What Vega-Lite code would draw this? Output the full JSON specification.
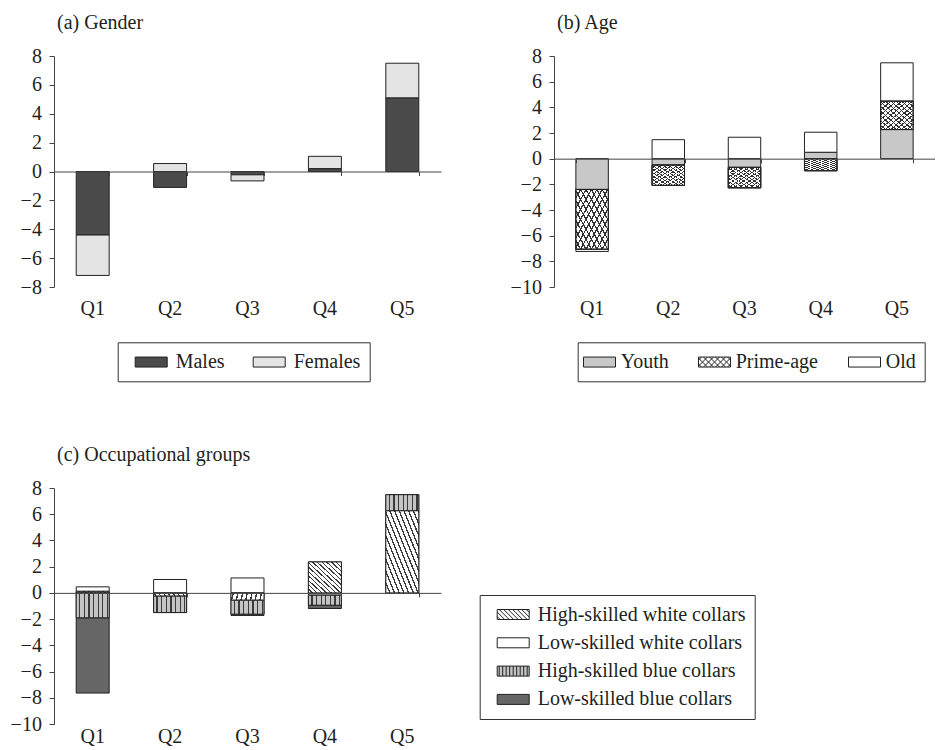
{
  "$schema": "https://vega.github.io/schema/vega-lite/v6.json",
  "background": "white",
  "padding": {"left": 10, "top": 13, "right": 0, "bottom": 0},
  "bounds": "flush",
  "columns": 2,
  "spacing": {"row": 201, "column": 113},
  "resolve": {"scale": {"fill": "independent", "shape": "independent"}, "legend": {"fill": "independent", "shape": "independent"}},
  "config": {
    "font": "Liberation Serif",
    "view": {"stroke": null},
    "axis": {"labelFont": "Liberation Serif", "labelFontSize": 20, "labelColor": "#231f20", "grid": false},
    "title": {"font": "Liberation Serif", "fontSize": 20, "fontWeight": "normal", "color": "#231f20", "anchor": "start", "frame": "group", "offset": 13, "dx": 3},
    "legend": {"labelFont": "Liberation Serif", "labelFontSize": 20, "labelColor": "#231f20", "labelLimit": 400, "symbolType": "M-1.6,-0.5H1.6V0.5H-1.6Z", "symbolSize": 400, "symbolStrokeColor": "#222", "symbolStrokeWidth": 1, "strokeColor": "#333", "strokeWidth": 1, "padding": 9, "symbolOffset": 14, "labelOffset": 14, "orient": "none"}
  },
  "datasets": {
    "a": [
      {"q": "Q1", "group": "Males", "ord": 1, "value": -4.4},
      {"q": "Q1", "group": "Females", "ord": 2, "value": -2.8},
      {"q": "Q2", "group": "Males", "ord": 1, "value": -1.1},
      {"q": "Q2", "group": "Females", "ord": 2, "value": 0.55},
      {"q": "Q3", "group": "Males", "ord": 1, "value": -0.23},
      {"q": "Q3", "group": "Females", "ord": 2, "value": -0.42},
      {"q": "Q4", "group": "Males", "ord": 1, "value": 0.2},
      {"q": "Q4", "group": "Females", "ord": 2, "value": 0.85},
      {"q": "Q5", "group": "Males", "ord": 1, "value": 5.1},
      {"q": "Q5", "group": "Females", "ord": 2, "value": 2.4}
    ],
    "b": [
      {"q": "Q1", "group": "Youth", "ord": 1, "value": -2.4},
      {"q": "Q1", "group": "Prime-age", "ord": 2, "value": -4.65},
      {"q": "Q1", "group": "Old", "ord": 3, "value": -0.18},
      {"q": "Q2", "group": "Youth", "ord": 1, "value": -0.5},
      {"q": "Q2", "group": "Prime-age", "ord": 2, "value": -1.58},
      {"q": "Q2", "group": "Old", "ord": 3, "value": 1.48},
      {"q": "Q3", "group": "Youth", "ord": 1, "value": -0.68},
      {"q": "Q3", "group": "Prime-age", "ord": 2, "value": -1.59},
      {"q": "Q3", "group": "Old", "ord": 3, "value": 1.67},
      {"q": "Q4", "group": "Youth", "ord": 1, "value": 0.5},
      {"q": "Q4", "group": "Prime-age", "ord": 2, "value": -0.94},
      {"q": "Q4", "group": "Old", "ord": 3, "value": 1.56},
      {"q": "Q5", "group": "Youth", "ord": 1, "value": 2.27},
      {"q": "Q5", "group": "Prime-age", "ord": 2, "value": 2.21},
      {"q": "Q5", "group": "Old", "ord": 3, "value": 2.99}
    ],
    "c": [
      {"q": "Q1", "group": "High-skilled white collars", "ord": 1, "value": 0.12},
      {"q": "Q1", "group": "Low-skilled white collars", "ord": 2, "value": 0.34},
      {"q": "Q1", "group": "High-skilled blue collars", "ord": 3, "value": -1.9},
      {"q": "Q1", "group": "Low-skilled blue collars", "ord": 4, "value": -5.74},
      {"q": "Q2", "group": "High-skilled white collars", "ord": 1, "value": -0.25},
      {"q": "Q2", "group": "Low-skilled white collars", "ord": 2, "value": 1.02},
      {"q": "Q2", "group": "High-skilled blue collars", "ord": 3, "value": -1.25},
      {"q": "Q3", "group": "High-skilled white collars", "ord": 1, "value": -0.56},
      {"q": "Q3", "group": "Low-skilled white collars", "ord": 2, "value": 1.14},
      {"q": "Q3", "group": "High-skilled blue collars", "ord": 3, "value": -1.06},
      {"q": "Q3", "group": "Low-skilled blue collars", "ord": 4, "value": -0.1},
      {"q": "Q4", "group": "High-skilled white collars", "ord": 1, "value": 2.36},
      {"q": "Q4", "group": "Low-skilled white collars", "ord": 2, "value": -0.18},
      {"q": "Q4", "group": "High-skilled blue collars", "ord": 3, "value": -0.76},
      {"q": "Q4", "group": "Low-skilled blue collars", "ord": 4, "value": -0.25},
      {"q": "Q5", "group": "High-skilled white collars", "ord": 1, "value": 6.27},
      {"q": "Q5", "group": "High-skilled blue collars", "ord": 3, "value": 1.22}
    ]
  },
  "concat": [
    {
      "width": 387, "height": 231,
      "title": "(a) Gender",
      "data": {"name": "a"},
      "transform": [{"stack": "value", "groupby": ["q"], "sort": [{"field": "ord", "order": "ascending"}], "as": ["v0", "v1"]}],
      "encoding": {
        "y": {"field": "v0", "type": "quantitative", "scale": {"domain": [-8, 8], "nice": false, "zero": false},
              "axis": {"values": [-8, -6, -4, -2, 0, 2, 4, 6, 8], "title": null, "domainColor": "#444", "tickColor": "#444", "tickSize": 5, "labelPadding": 7.6}},
        "y2": {"field": "v1"}
      },
      "layer": [
        {"mark": {"type": "bar", "stroke": "#222", "strokeWidth": 1},
         "encoding": {
           "x": {"field": "q", "type": "ordinal", "scale": {"paddingInner": 0.574, "paddingOuter": 0.287},
                 "axis": {"orient": "bottom", "title": null, "domain": false, "ticks": false, "labelAngle": 0, "labelPadding": 11}},
           "fill": {"field": "group", "type": "nominal",
                    "scale": {"domain": ["Males", "Females"], "range": ["#4b4b4b", "#e4e4e4"]},
                    "legend": {"title": null, "orient": "none", "legendX": 63.7, "legendY": 286.3, "direction": "horizontal", "columns": 2, "columnPadding": 20,
                               "encoding": {"symbols": {"stroke": {"value": "#222"}, "strokeWidth": {"value": 1}}}}}
         }},
        {"mark": {"type": "bar", "opacity": 0},
         "encoding": {
           "x": {"field": "q", "type": "ordinal",
                 "axis": {"orient": "bottom", "offset": -115.5, "title": null, "labels": false, "domain": true, "domainColor": "#444", "ticks": true, "tickBand": "extent", "tickSize": 4, "tickColor": "#444", "zindex": 1}}
         }}
      ],
      "resolve": {"axis": {"x": "independent"}}
    },
    {
      "width": 381, "height": 231,
      "title": "(b) Age",
      "data": {"name": "b"},
      "transform": [{"stack": "value", "groupby": ["q"], "sort": [{"field": "ord", "order": "ascending"}], "as": ["v0", "v1"]}],
      "encoding": {
        "y": {"field": "v0", "type": "quantitative", "scale": {"domain": [-10, 8], "nice": false, "zero": false},
              "axis": {"values": [-10, -8, -6, -4, -2, 0, 2, 4, 6, 8], "title": null, "domainColor": "#444", "tickColor": "#444", "tickSize": 5, "labelPadding": 7.6}},
        "y2": {"field": "v1"}
      },
      "layer": [
        {"mark": {"type": "bar", "stroke": "#222", "strokeWidth": 1},
         "encoding": {
           "x": {"field": "q", "type": "ordinal", "scale": {"paddingInner": 0.574, "paddingOuter": 0.287},
                 "axis": {"orient": "bottom", "title": null, "domain": false, "ticks": false, "labelAngle": 0, "labelPadding": 11}},
           "fill": {"field": "group", "type": "nominal",
                    "scale": {"domain": ["Youth", "Prime-age", "Old"], "range": ["#c8c8c8", "#ffffff", "#ffffff"]},
                    "legend": {"title": null, "orient": "none", "legendX": 23.7, "legendY": 286.3, "direction": "horizontal", "columns": 3, "columnPadding": 27, "symbolOffset": 2.3, "labelOffset": 10.7,
                               "encoding": {"symbols": {"stroke": {"value": "#222"}, "strokeWidth": {"value": 1}, "opacity": {"value": 1}}}}}
         }},
        {"transform": [{"filter": "datum.group === 'Prime-age'"}],
         "mark": {"type": "bar", "stroke": "#222", "strokeWidth": 1,
                  "fill": {"gradient": "linear", "x1": 0, "y1": 1, "x2": 1, "y2": 0, "stops": [
                    {"offset": 0, "color": "#ffffff"}, {"offset": 0.0625, "color": "#ffffff"}, {"offset": 0.0625, "color": "#333333"}, {"offset": 0.0833, "color": "#333333"},
                    {"offset": 0.0833, "color": "#ffffff"}, {"offset": 0.1458, "color": "#ffffff"}, {"offset": 0.1458, "color": "#333333"}, {"offset": 0.1667, "color": "#333333"},
                    {"offset": 0.1667, "color": "#ffffff"}, {"offset": 0.2292, "color": "#ffffff"}, {"offset": 0.2292, "color": "#333333"}, {"offset": 0.25, "color": "#333333"},
                    {"offset": 0.25, "color": "#ffffff"}, {"offset": 0.3125, "color": "#ffffff"}, {"offset": 0.3125, "color": "#333333"}, {"offset": 0.3333, "color": "#333333"},
                    {"offset": 0.3333, "color": "#ffffff"}, {"offset": 0.3958, "color": "#ffffff"}, {"offset": 0.3958, "color": "#333333"}, {"offset": 0.4167, "color": "#333333"},
                    {"offset": 0.4167, "color": "#ffffff"}, {"offset": 0.4792, "color": "#ffffff"}, {"offset": 0.4792, "color": "#333333"}, {"offset": 0.5, "color": "#333333"},
                    {"offset": 0.5, "color": "#ffffff"}, {"offset": 0.5625, "color": "#ffffff"}, {"offset": 0.5625, "color": "#333333"}, {"offset": 0.5833, "color": "#333333"},
                    {"offset": 0.5833, "color": "#ffffff"}, {"offset": 0.6458, "color": "#ffffff"}, {"offset": 0.6458, "color": "#333333"}, {"offset": 0.6667, "color": "#333333"},
                    {"offset": 0.6667, "color": "#ffffff"}, {"offset": 0.7292, "color": "#ffffff"}, {"offset": 0.7292, "color": "#333333"}, {"offset": 0.75, "color": "#333333"},
                    {"offset": 0.75, "color": "#ffffff"}, {"offset": 0.8125, "color": "#ffffff"}, {"offset": 0.8125, "color": "#333333"}, {"offset": 0.8333, "color": "#333333"},
                    {"offset": 0.8333, "color": "#ffffff"}, {"offset": 0.8958, "color": "#ffffff"}, {"offset": 0.8958, "color": "#333333"}, {"offset": 0.9167, "color": "#333333"},
                    {"offset": 0.9167, "color": "#ffffff"}, {"offset": 0.9792, "color": "#ffffff"}, {"offset": 0.9792, "color": "#333333"}, {"offset": 1, "color": "#333333"}
                  ]}},
         "encoding": {"x": {"field": "q", "type": "ordinal", "axis": null}}},
        {"transform": [{"filter": "datum.group === 'Prime-age'"}],
         "mark": {"type": "bar", "stroke": "#222", "strokeWidth": 1,
                  "fill": {"gradient": "linear", "x1": 0, "y1": 0, "x2": 1, "y2": 1, "stops": [
                    {"offset": 0, "color": "rgba(0,0,0,0)"}, {"offset": 0.0625, "color": "rgba(0,0,0,0)"}, {"offset": 0.0625, "color": "#333333"}, {"offset": 0.0833, "color": "#333333"},
                    {"offset": 0.0833, "color": "rgba(0,0,0,0)"}, {"offset": 0.1458, "color": "rgba(0,0,0,0)"}, {"offset": 0.1458, "color": "#333333"}, {"offset": 0.1667, "color": "#333333"},
                    {"offset": 0.1667, "color": "rgba(0,0,0,0)"}, {"offset": 0.2292, "color": "rgba(0,0,0,0)"}, {"offset": 0.2292, "color": "#333333"}, {"offset": 0.25, "color": "#333333"},
                    {"offset": 0.25, "color": "rgba(0,0,0,0)"}, {"offset": 0.3125, "color": "rgba(0,0,0,0)"}, {"offset": 0.3125, "color": "#333333"}, {"offset": 0.3333, "color": "#333333"},
                    {"offset": 0.3333, "color": "rgba(0,0,0,0)"}, {"offset": 0.3958, "color": "rgba(0,0,0,0)"}, {"offset": 0.3958, "color": "#333333"}, {"offset": 0.4167, "color": "#333333"},
                    {"offset": 0.4167, "color": "rgba(0,0,0,0)"}, {"offset": 0.4792, "color": "rgba(0,0,0,0)"}, {"offset": 0.4792, "color": "#333333"}, {"offset": 0.5, "color": "#333333"},
                    {"offset": 0.5, "color": "rgba(0,0,0,0)"}, {"offset": 0.5625, "color": "rgba(0,0,0,0)"}, {"offset": 0.5625, "color": "#333333"}, {"offset": 0.5833, "color": "#333333"},
                    {"offset": 0.5833, "color": "rgba(0,0,0,0)"}, {"offset": 0.6458, "color": "rgba(0,0,0,0)"}, {"offset": 0.6458, "color": "#333333"}, {"offset": 0.6667, "color": "#333333"},
                    {"offset": 0.6667, "color": "rgba(0,0,0,0)"}, {"offset": 0.7292, "color": "rgba(0,0,0,0)"}, {"offset": 0.7292, "color": "#333333"}, {"offset": 0.75, "color": "#333333"},
                    {"offset": 0.75, "color": "rgba(0,0,0,0)"}, {"offset": 0.8125, "color": "rgba(0,0,0,0)"}, {"offset": 0.8125, "color": "#333333"}, {"offset": 0.8333, "color": "#333333"},
                    {"offset": 0.8333, "color": "rgba(0,0,0,0)"}, {"offset": 0.8958, "color": "rgba(0,0,0,0)"}, {"offset": 0.8958, "color": "#333333"}, {"offset": 0.9167, "color": "#333333"},
                    {"offset": 0.9167, "color": "rgba(0,0,0,0)"}, {"offset": 0.9792, "color": "rgba(0,0,0,0)"}, {"offset": 0.9792, "color": "#333333"}, {"offset": 1, "color": "#333333"}
                  ]}},
         "encoding": {"x": {"field": "q", "type": "ordinal", "axis": null}}},
        {"mark": {"type": "point", "filled": true, "opacity": 0},
         "encoding": {
           "x": {"field": "q", "type": "ordinal", "axis": null},
           "fill": {"field": "group", "type": "nominal"},
           "shape": {"field": "group", "type": "nominal",
                     "scale": {"domain": ["Youth", "Prime-age", "Old"],
                               "range": ["M-1.6,-0.5H1.6V0.5H-1.6Z",
                                         "M-1.6,-0.5H1.6V0.5H-1.6Z M-1.6,0.2L-1.3,0.5 M-1.6,-0.4L-0.7,0.5 M-1.1,-0.5L-0.1,0.5 M-0.5,-0.5L0.5,0.5 M0.1,-0.5L1.1,0.5 M0.7,-0.5L1.6,0.4 M1.3,-0.5L1.6,-0.2 M-1.3,-0.5L-1.6,-0.2 M-0.7,-0.5L-1.6,0.4 M-0.1,-0.5L-1.1,0.5 M0.5,-0.5L-0.5,0.5 M1.1,-0.5L0.1,0.5 M1.6,-0.4L0.7,0.5 M1.6,0.2L1.3,0.5",
                                         "M-1.6,-0.5H1.6V0.5H-1.6Z"]},
                     "legend": {"title": null, "orient": "none", "legendX": 23.7, "legendY": 286.3, "direction": "horizontal", "columns": 3, "columnPadding": 27, "symbolOffset": 2.3, "labelOffset": 10.7,
                               "encoding": {"symbols": {"stroke": {"value": "#222"}, "strokeWidth": {"value": 1}, "opacity": {"value": 1}}}}}
         }},
        {"mark": {"type": "bar", "opacity": 0},
         "encoding": {
           "x": {"field": "q", "type": "ordinal",
                 "axis": {"orient": "bottom", "offset": -128.33, "title": null, "labels": false, "domain": true, "domainColor": "#444", "ticks": true, "tickBand": "extent", "tickSize": 4, "tickColor": "#444", "zindex": 1}}
         }}
      ],
      "resolve": {"axis": {"x": "independent"}}
    },
    {
      "width": 387, "height": 236,
      "title": "(c) Occupational groups",
      "data": {"name": "c"},
      "transform": [{"stack": "value", "groupby": ["q"], "sort": [{"field": "ord", "order": "ascending"}], "as": ["v0", "v1"]}],
      "encoding": {
        "y": {"field": "v0", "type": "quantitative", "scale": {"domain": [-10, 8], "nice": false, "zero": false},
              "axis": {"values": [-10, -8, -6, -4, -2, 0, 2, 4, 6, 8], "title": null, "domainColor": "#444", "tickColor": "#444", "tickSize": 5, "labelPadding": 7.6}},
        "y2": {"field": "v1"}
      },
      "layer": [
        {"mark": {"type": "bar", "stroke": "#222", "strokeWidth": 1},
         "encoding": {
           "x": {"field": "q", "type": "ordinal", "scale": {"paddingInner": 0.574, "paddingOuter": 0.287},
                 "axis": {"orient": "bottom", "title": null, "domain": false, "ticks": false, "labelAngle": 0, "labelPadding": 2}},
           "fill": {"field": "group", "type": "nominal",
                    "scale": {"domain": ["High-skilled white collars", "Low-skilled white collars", "High-skilled blue collars", "Low-skilled blue collars"],
                              "range": ["#ffffff", "#ffffff", "#c4c4c4", "#666666"]},
                    "legend": {"title": null, "orient": "none", "legendX": 425.7, "legendY": 107, "direction": "vertical", "rowPadding": 7.3,
                               "encoding": {"symbols": {"stroke": {"value": "#222"}, "strokeWidth": {"value": 1}, "opacity": {"value": 1}}}}}
         }},
        {"transform": [{"filter": "datum.group === 'High-skilled white collars'"}],
         "mark": {"type": "bar", "stroke": "#222", "strokeWidth": 1,
                  "fill": {"gradient": "linear", "x1": 0, "y1": 1, "x2": 1, "y2": 0, "stops": [
                    {"offset": 0, "color": "#ffffff"}, {"offset": 0.05, "color": "#ffffff"}, {"offset": 0.05, "color": "#3c3c3c"}, {"offset": 0.0714, "color": "#3c3c3c"},
                    {"offset": 0.0714, "color": "#ffffff"}, {"offset": 0.1214, "color": "#ffffff"}, {"offset": 0.1214, "color": "#3c3c3c"}, {"offset": 0.1429, "color": "#3c3c3c"},
                    {"offset": 0.1429, "color": "#ffffff"}, {"offset": 0.1929, "color": "#ffffff"}, {"offset": 0.1929, "color": "#3c3c3c"}, {"offset": 0.2143, "color": "#3c3c3c"},
                    {"offset": 0.2143, "color": "#ffffff"}, {"offset": 0.2643, "color": "#ffffff"}, {"offset": 0.2643, "color": "#3c3c3c"}, {"offset": 0.2857, "color": "#3c3c3c"},
                    {"offset": 0.2857, "color": "#ffffff"}, {"offset": 0.3357, "color": "#ffffff"}, {"offset": 0.3357, "color": "#3c3c3c"}, {"offset": 0.3571, "color": "#3c3c3c"},
                    {"offset": 0.3571, "color": "#ffffff"}, {"offset": 0.4071, "color": "#ffffff"}, {"offset": 0.4071, "color": "#3c3c3c"}, {"offset": 0.4286, "color": "#3c3c3c"},
                    {"offset": 0.4286, "color": "#ffffff"}, {"offset": 0.4786, "color": "#ffffff"}, {"offset": 0.4786, "color": "#3c3c3c"}, {"offset": 0.5, "color": "#3c3c3c"},
                    {"offset": 0.5, "color": "#ffffff"}, {"offset": 0.55, "color": "#ffffff"}, {"offset": 0.55, "color": "#3c3c3c"}, {"offset": 0.5714, "color": "#3c3c3c"},
                    {"offset": 0.5714, "color": "#ffffff"}, {"offset": 0.6214, "color": "#ffffff"}, {"offset": 0.6214, "color": "#3c3c3c"}, {"offset": 0.6429, "color": "#3c3c3c"},
                    {"offset": 0.6429, "color": "#ffffff"}, {"offset": 0.6929, "color": "#ffffff"}, {"offset": 0.6929, "color": "#3c3c3c"}, {"offset": 0.7143, "color": "#3c3c3c"},
                    {"offset": 0.7143, "color": "#ffffff"}, {"offset": 0.7643, "color": "#ffffff"}, {"offset": 0.7643, "color": "#3c3c3c"}, {"offset": 0.7857, "color": "#3c3c3c"},
                    {"offset": 0.7857, "color": "#ffffff"}, {"offset": 0.8357, "color": "#ffffff"}, {"offset": 0.8357, "color": "#3c3c3c"}, {"offset": 0.8571, "color": "#3c3c3c"},
                    {"offset": 0.8571, "color": "#ffffff"}, {"offset": 0.9071, "color": "#ffffff"}, {"offset": 0.9071, "color": "#3c3c3c"}, {"offset": 0.9286, "color": "#3c3c3c"},
                    {"offset": 0.9286, "color": "#ffffff"}, {"offset": 0.9786, "color": "#ffffff"}, {"offset": 0.9786, "color": "#3c3c3c"}, {"offset": 1, "color": "#3c3c3c"}
                  ]}},
         "encoding": {"x": {"field": "q", "type": "ordinal", "axis": null}}},
        {"transform": [{"filter": "datum.group === 'High-skilled blue collars'"}],
         "mark": {"type": "bar", "stroke": "#222", "strokeWidth": 1,
                  "fill": {"gradient": "linear", "x1": 0, "y1": 0, "x2": 1, "y2": 0, "stops": [
                    {"offset": 0, "color": "#c4c4c4"}, {"offset": 0.087, "color": "#c4c4c4"}, {"offset": 0.087, "color": "#3a3a3a"}, {"offset": 0.127, "color": "#3a3a3a"},
                    {"offset": 0.127, "color": "#c4c4c4"}, {"offset": 0.227, "color": "#c4c4c4"}, {"offset": 0.227, "color": "#3a3a3a"}, {"offset": 0.267, "color": "#3a3a3a"},
                    {"offset": 0.267, "color": "#c4c4c4"}, {"offset": 0.367, "color": "#c4c4c4"}, {"offset": 0.367, "color": "#3a3a3a"}, {"offset": 0.407, "color": "#3a3a3a"},
                    {"offset": 0.407, "color": "#c4c4c4"}, {"offset": 0.507, "color": "#c4c4c4"}, {"offset": 0.507, "color": "#3a3a3a"}, {"offset": 0.547, "color": "#3a3a3a"},
                    {"offset": 0.547, "color": "#c4c4c4"}, {"offset": 0.647, "color": "#c4c4c4"}, {"offset": 0.647, "color": "#3a3a3a"}, {"offset": 0.687, "color": "#3a3a3a"},
                    {"offset": 0.687, "color": "#c4c4c4"}, {"offset": 0.787, "color": "#c4c4c4"}, {"offset": 0.787, "color": "#3a3a3a"}, {"offset": 0.827, "color": "#3a3a3a"},
                    {"offset": 0.827, "color": "#c4c4c4"}, {"offset": 0.927, "color": "#c4c4c4"}, {"offset": 0.927, "color": "#3a3a3a"}, {"offset": 0.967, "color": "#3a3a3a"},
                    {"offset": 0.967, "color": "#c4c4c4"}, {"offset": 1, "color": "#c4c4c4"}
                  ]}},
         "encoding": {"x": {"field": "q", "type": "ordinal", "axis": null}}},
        {"mark": {"type": "point", "filled": true, "opacity": 0},
         "encoding": {
           "x": {"field": "q", "type": "ordinal", "axis": null},
           "fill": {"field": "group", "type": "nominal"},
           "shape": {"field": "group", "type": "nominal",
                     "scale": {"domain": ["High-skilled white collars", "Low-skilled white collars", "High-skilled blue collars", "Low-skilled blue collars"],
                               "range": ["M-1.6,-0.5H1.6V0.5H-1.6Z M-1.6,0.2L-1.3,0.5 M-1.6,-0.25L-0.85,0.5 M-1.4,-0.5L-0.4,0.5 M-0.95,-0.5L0.05,0.5 M-0.5,-0.5L0.5,0.5 M-0.05,-0.5L0.95,0.5 M0.4,-0.5L1.4,0.5 M0.85,-0.5L1.6,0.25 M1.3,-0.5L1.6,-0.2",
                                         "M-1.6,-0.5H1.6V0.5H-1.6Z",
                                         "M-1.6,-0.5H1.6V0.5H-1.6Z M-1.4,-0.5V0.5 M-1.05,-0.5V0.5 M-0.7,-0.5V0.5 M-0.35,-0.5V0.5 M0,-0.5V0.5 M0.35,-0.5V0.5 M0.7,-0.5V0.5 M1.05,-0.5V0.5 M1.4,-0.5V0.5",
                                         "M-1.6,-0.5H1.6V0.5H-1.6Z"]},
                     "legend": {"title": null, "orient": "none", "legendX": 425.7, "legendY": 107, "direction": "vertical", "rowPadding": 7.3,
                               "encoding": {"symbols": {"stroke": {"value": "#222"}, "strokeWidth": {"value": 1}, "opacity": {"value": 1}}}}}
         }},
        {"mark": {"type": "bar", "opacity": 0},
         "encoding": {
           "x": {"field": "q", "type": "ordinal",
                 "axis": {"orient": "bottom", "offset": -131.11, "title": null, "labels": false, "domain": true, "domainColor": "#444", "ticks": true, "tickBand": "extent", "tickSize": 4, "tickColor": "#444", "zindex": 1}}
         }}
      ],
      "resolve": {"axis": {"x": "independent"}}
    }
  ]
}
